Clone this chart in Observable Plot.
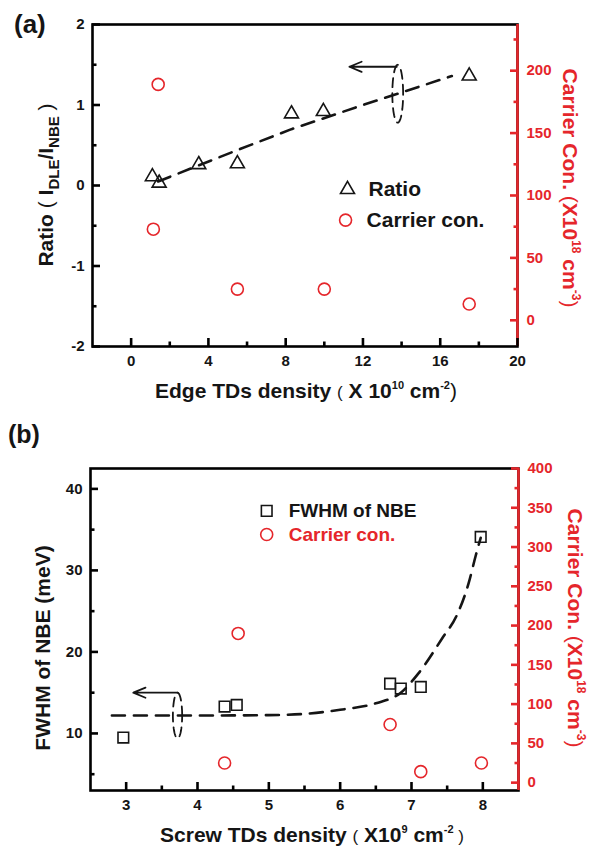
<!DOCTYPE html>
<html><head><meta charset="utf-8">
<script src="https://cdn.jsdelivr.net/npm/d3@7"></script>
<script src="https://cdn.jsdelivr.net/npm/@observablehq/plot@0.6"></script>
<style>
body{margin:0;background:#fff;}
#wrap{position:relative;width:591px;height:849px;}
#wrap > svg{position:absolute;left:0;overflow:visible;}
</style></head><body><div id="wrap"></div>
<script>
const FONT = "'Liberation Sans', Arial, Helvetica, sans-serif";
const RED = "#e5262b";
const INK = "#151515";

// ---------- Panel (a) data ----------
const edgeTD_ratio = [1.1, 1.45, 3.5, 5.5, 8.3, 9.95, 17.5];
const ratioA       = [0.11, 0.03, 0.26, 0.27, 0.89, 0.92, 1.36];
const edgeTD_carr  = [1.4, 1.15, 5.5, 10.0, 17.5];
const carrierA     = [189, 73, 25, 25, 13];
const fitA_x = [1.4, 5.5, 8.3, 12.0, 16.6];
const fitA_y = [0.05, 0.44, 0.70, 1.00, 1.36];
const xTicksA = [0, 4, 8, 12, 16, 20];
const xMinorA = [2, 6, 10, 14, 18];
const yTicksA = [-2, -1, 0, 1, 2];
const yMinorA = [-1.5, -0.5, 0.5, 1.5];
const rTicksA = [0, 50, 100, 150, 200];
const rMinorA = [25, 75, 125, 175, 225];

// ---------- Panel (b) data ----------
const screwTD_fwhm = [2.96, 4.38, 4.55, 6.7, 6.85, 7.13, 7.97];
const fwhmB        = [9.5, 13.3, 13.5, 16.1, 15.5, 15.7, 34.1];
const screwTD_carr = [4.57, 4.38, 6.7, 7.13, 7.98];
const carrierB     = [190, 25, 74, 14, 25];
const fitB_x = [2.8, 4.0, 5.0, 5.5, 6.0, 6.5, 6.85, 7.1, 7.44, 7.63, 7.8, 7.9, 7.97];
const fitB_y = [12.2, 12.2, 12.25, 12.4, 12.9, 13.7, 15.0, 17.4, 21.8, 24.4, 28.4, 31.8, 34.0];
const xTicksB = [3, 4, 5, 6, 7, 8];
const xMinorB = [3.5, 4.5, 5.5, 6.5, 7.5];
const yTicksB = [10, 20, 30, 40];
const yMinorB = [5, 15, 25, 35];
const rTicksB = [0, 50, 100, 150, 200, 250, 300, 350, 400];
const rMinorB = [25, 75, 125, 175, 225, 275, 325, 375];

// domains
const xDomA = [-2, 20], yDomA = [-2, 2], rDomA = [-21, 237];
const xDomB = [2.5, 8.5], yDomB = [3, 42.5], rDomB = [-10, 400];
const mapA = d3.scaleLinear().domain(rDomA).range(yDomA);
const mapB = d3.scaleLinear().domain(rDomB).range(yDomB);

// annotations (data units)
const ellA = {cx: 13.8, cy: 1.14, rx: 0.28, ry: 0.36};
const arrowA = {x1: 13.75, y1: 1.475, x2: 11.3, y2: 1.475};
const ellB = {cx: 3.72, cy: 12.2, rx: 0.065, ry: 2.8};
const arrowB = {x1: 3.72, y1: 15.0, x2: 3.1, y2: 15.0};
const legendA = [{sym: "triangle", x: 11.2, y: -0.05, label: "Ratio", color: INK, mark: INK, r: 5.2},
                 {sym: "circle", x: 11.1, y: -0.43, label: "Carrier con.", color: INK, mark: RED, r: 6}];
const legendB = [{sym: "square", x: 4.97, y: 37.3, label: "FWHM of NBE", color: INK, mark: INK, r: 6},
                 {sym: "circle", x: 4.97, y: 34.4, label: "Carrier con.", color: RED, mark: RED, r: 6}];

function ellipsePts(e) {
  const pts = [];
  for (let a = 0; a <= 360; a += 6) {
    const t = a * Math.PI / 180;
    pts.push({x: e.cx + e.rx * Math.cos(t), y: e.cy + e.ry * Math.sin(t)});
  }
  return pts;
}

function rich(svg, {x, y, rotate = 0, size = 21, fill = INK, anchor = "middle"}, parts) {
  const t = d3.select(svg).append("text")
    .attr("transform", `translate(${x},${y}) rotate(${rotate})`)
    .attr("text-anchor", anchor).attr("font-size", size).attr("font-weight", "bold")
    .attr("font-family", FONT).attr("fill", fill).style("white-space", "pre");
  let cur = 0;
  for (const p of parts) {
    const [s, o] = typeof p === "string" ? [p, {}] : p;
    const shift = o.shift || 0;
    const sp = t.append("tspan").text(s);
    if (shift - cur !== 0) sp.attr("dy", shift - cur);
    cur = shift;
    if (o.size) sp.attr("font-size", o.size);
    if (o.weight) sp.attr("font-weight", o.weight);
  }
  return t;
}

// Axes: inward ticks (negative tickSize) + labels, all Plot axis marks
function axesFor(xT, xM, yT, yM, rT, rM, map) {
  return [
    Plot.axisX(xT, {tickSize: -8, tickPadding: 17, strokeWidth: 2.6, stroke: "#000", label: null, tickFormat: d => d}),
    Plot.axisX(xM, {tickSize: -4.5, strokeWidth: 2.6, stroke: "#000", text: null, label: null}),
    Plot.axisY(yT, {tickSize: -8, tickPadding: 16, strokeWidth: 2.6, stroke: "#000", label: null, tickFormat: d => d}),
    Plot.axisY(yM, {tickSize: -4.5, strokeWidth: 2.6, stroke: "#000", text: null, label: null}),
    Plot.axisY(rT.map(map), {anchor: "right", tickSize: -8, tickPadding: 17, strokeWidth: 2.6, stroke: RED, fill: RED, label: null, tickFormat: d => Math.round(map.invert(d))}),
    Plot.axisY(rM.map(map), {anchor: "right", tickSize: -4.5, strokeWidth: 2.6, stroke: RED, text: null, label: null})
  ];
}

function legendMarks(leg, fontSize, dx) {
  return [
    ...leg.map(d => Plot.dot([d], {x: "x", y: "y", symbol: d.sym, r: d.r, fill: "none", stroke: d.mark, strokeWidth: 1.6})),
    Plot.text(leg, {x: "x", y: "y", text: "label", fill: "color", dx, textAnchor: "start", fontSize, fontWeight: "bold"})
  ];
}

const style = {fontFamily: FONT, fontSize: "15px", fontWeight: "bold", background: "white", color: INK};

// ---------- Panel (a) ----------
const rowsRatio = edgeTD_ratio.map((x, i) => ({x, y: ratioA[i]}));
const rowsCarrA = edgeTD_carr.map((x, i) => ({x, y: mapA(carrierA[i])}));
const rowsFitA = fitA_x.map((x, i) => ({x, y: fitA_y[i]}));

const plotA = Plot.plot({
  width: 591, height: 420, marginTop: 24, marginBottom: 74, marginLeft: 92, marginRight: 74,
  style,
  x: {domain: xDomA},
  y: {domain: yDomA},
  marks: [
    Plot.line(rowsFitA, {x: "x", y: "y", stroke: INK, strokeWidth: 2.6, strokeDasharray: "13,9"}),
    Plot.line(ellipsePts(ellA), {x: "x", y: "y", stroke: INK, strokeWidth: 1.8, strokeDasharray: "9,6", curve: "linear"}),
    Plot.arrow([arrowA], {x1: "x1", y1: "y1", x2: "x2", y2: "y2", stroke: INK, strokeWidth: 1.8, headLength: 11, headAngle: 45}),
    Plot.dot(rowsRatio, {x: "x", y: "y", symbol: "triangle", r: 5.2, fill: "none", stroke: INK, strokeWidth: 1.6}),
    Plot.dot(rowsCarrA, {x: "x", y: "y", symbol: "circle", r: 6, fill: "none", stroke: RED, strokeWidth: 1.6}),
    ...legendMarks(legendA, 21, 21),
    Plot.frame({stroke: "black", strokeWidth: 2.6}),
    Plot.ruleX([xDomA[1]], {stroke: RED, strokeWidth: 2.6}),
    ...axesFor(xTicksA, xMinorA, yTicksA, yMinorA, rTicksA, rMinorA, mapA)
  ]
});
plotA.style.top = "0px";

rich(plotA, {x: 14, y: 33, size: 26, anchor: "start"}, ["(a)"]);
rich(plotA, {x: 53, y: 185, rotate: -90, size: 21}, [
  "Ratio ", ["(", {weight: "normal"}], " I", ["DLE", {shift: 6, size: 15}], ["/I", {shift: 0}], ["NBE", {shift: 6, size: 15}], [" )", {shift: 0, weight: "normal"}]
]);
rich(plotA, {x: 306, y: 398, size: 21}, [
  "Edge TDs density ", ["(", {weight: "normal", size: 17}], " X 10", ["10", {shift: -9, size: 11}], [" cm", {shift: 0}], ["-2", {shift: -9, size: 11}], [")", {shift: 0, weight: "normal"}]
]);
rich(plotA, {x: 563, y: 188, rotate: 90, size: 21, fill: RED}, [
  "Carrier Con. ", ["(", {weight: "normal"}], "X10", ["18", {shift: -9, size: 12}], [" cm", {shift: 0}], ["-3", {shift: -9, size: 12}], [")", {shift: 0, weight: "normal"}]
]);

// ---------- Panel (b) ----------
const rowsFwhm = screwTD_fwhm.map((x, i) => ({x, y: fwhmB[i]}));
const rowsCarrB = screwTD_carr.map((x, i) => ({x, y: mapB(carrierB[i])}));
const rowsFitB = fitB_x.map((x, i) => ({x, y: fitB_y[i]}));

const plotB = Plot.plot({
  width: 591, height: 429, marginTop: 48, marginBottom: 59, marginLeft: 90, marginRight: 73,
  style,
  x: {domain: xDomB},
  y: {domain: yDomB},
  marks: [
    Plot.line(rowsFitB, {x: "x", y: "y", stroke: INK, strokeWidth: 2.6, strokeDasharray: "13,9", curve: "monotone-x"}),
    Plot.line(ellipsePts(ellB), {x: "x", y: "y", stroke: INK, strokeWidth: 1.8, strokeDasharray: "9,6"}),
    Plot.arrow([arrowB], {x1: "x1", y1: "y1", x2: "x2", y2: "y2", stroke: INK, strokeWidth: 1.8, headLength: 11, headAngle: 45}),
    Plot.dot(rowsFwhm, {x: "x", y: "y", symbol: "square", r: 6, fill: "none", stroke: INK, strokeWidth: 1.6}),
    Plot.dot(rowsCarrB, {x: "x", y: "y", symbol: "circle", r: 6, fill: "none", stroke: RED, strokeWidth: 1.6}),
    ...legendMarks(legendB, 19, 22),
    Plot.frame({stroke: "black", strokeWidth: 2.6}),
    Plot.ruleX([xDomB[1]], {stroke: RED, strokeWidth: 2.6}),
    ...axesFor(xTicksB, xMinorB, yTicksB, yMinorB, rTicksB, rMinorB, mapB)
  ]
});
plotB.style.top = "420px";

rich(plotB, {x: 8, y: 23, size: 25, anchor: "start"}, ["(b)"]);
rich(plotB, {x: 50, y: 228, rotate: -90, size: 21}, ["FWHM of NBE (meV)"]);
rich(plotB, {x: 312, y: 422, size: 21}, [
  "Screw TDs density ", ["(", {weight: "normal", size: 17}], " X10", ["9", {shift: -9, size: 11}], [" cm", {shift: 0}], ["-2", {shift: -9, size: 11}], [" )", {shift: 0, weight: "normal", size: 17}]
]);
rich(plotB, {x: 568, y: 208, rotate: 90, size: 21, fill: RED}, [
  "Carrier Con. ", ["(", {weight: "normal"}], "X10", ["18", {shift: -9, size: 12}], [" cm", {shift: 0}], ["-3", {shift: -9, size: 12}], [")", {shift: 0, weight: "normal"}]
]);

const wrap = document.getElementById("wrap");
wrap.appendChild(plotA);
wrap.appendChild(plotB);
</script>
</body></html>
